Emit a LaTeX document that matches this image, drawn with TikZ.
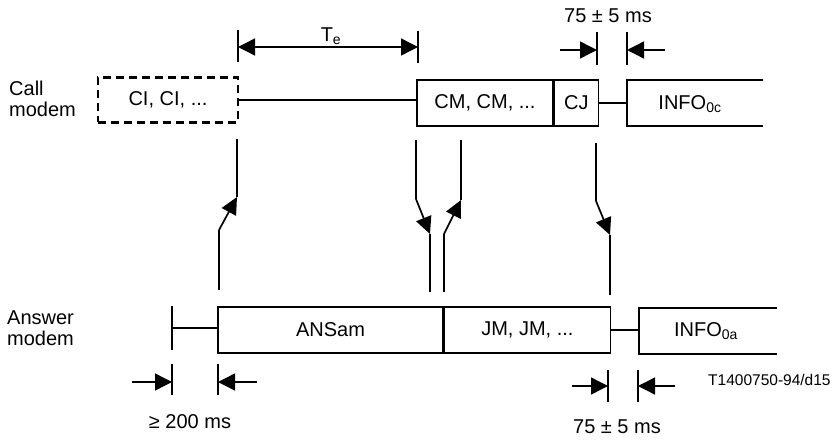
\documentclass[tikz,border=0pt]{standalone}
\usepackage{fontspec}
\setmainfont{Liberation Sans}
\usetikzlibrary{arrows.meta}
\begin{document}
\begin{tikzpicture}[x=1pt,y=-1pt,
  mainfont/.style={font=\fontsize{20}{21}\selectfont},
  txt/.style={mainfont, inner sep=0pt},
  box/.style={draw, line width=1.4pt, inner sep=0pt, minimum height=46pt, mainfont},
  ln/.style={line width=1.4pt},
  sigline/.style={line width=1.7pt},
  sig/.style={line width=1.7pt, -{Triangle[length=17pt,width=16pt]}},
  dim/.style={line width=1.4pt, -{Triangle[length=17pt,width=17pt]}},
  dimboth/.style={line width=1.4pt, {Triangle[length=17pt,width=17pt]}-{Triangle[length=17pt,width=17pt]}}
]
\useasboundingbox (0,0) rectangle (835,441);

% ---------- row labels ----------
\node[txt, align=left, anchor=west] (calllbl) at (9,99) {Call\\modem};
\node[txt, align=left, anchor=west] (anslbl) at (7,328) {Answer\\modem};

% ---------- call modem row ----------
\node[box, minimum width=140pt, minimum height=45pt, line width=2.6pt,
      dash pattern=on 8pt off 5pt] (ci) at (168,100) {CI, CI, ...};
\node[box, minimum width=136pt] (cm) at (485,103) {CM, CM, ...};
\node[box, minimum width=44pt, anchor=west] (cj) at (cm.east) {CJ};
\coordinate (icw) at (627,103);
\draw[ln] (763,80) -- (627,80) -- (627,126) -- (763,126);
\node[txt] (info0c) at (690,104) {INFO\textsubscript{0c}};
\draw[ln] (ci.east) -- (cm.west |- ci.east);
\draw[ln] (cj.east) -- (icw);

% ---------- answer modem row ----------
\node[box, minimum width=225pt] (ans) at (330.5,330) {ANSam};
\node[box, minimum width=166pt, anchor=west] (jm) at (ans.east) {JM, JM, ...};
\coordinate (iaw) at (639,330);
\draw[ln] (777,308) -- (639,308) -- (639,354) -- (777,354);
\node[txt] (info0a) at (706,331) {INFO\textsubscript{0a}};
\coordinate (t0a) at (172,306);
\coordinate (t0b) at (172,350);
\draw[ln] (t0a) -- (t0b);
\draw[ln] (172,328) -- (ans.west |- 172,328);
\draw[ln] (jm.east) -- (iaw);

% ---------- signal arrows ----------
% 1: answer -> call (ANSam start up to CI end)
\coordinate (s1a) at (219,290);
\coordinate (s1b) at (219,230);
\coordinate (s1c) at (237,197);
\coordinate (s1d) at (237,139);
\draw[sigline] (s1a) -- (s1b);
\draw[sig] (s1b) -- (s1c);
\draw[sigline] (s1c) -- (s1d);
% 2: call -> answer (CM start)
\coordinate (s2a) at (416,140);
\coordinate (s2b) at (416,199);
\coordinate (s2c) at (430,234);
\coordinate (s2d) at (430,292);
\draw[sigline] (s2a) -- (s2b);
\draw[sig] (s2b) -- (s2c);
\draw[sigline] (s2c) -- (s2d);
% 3: answer -> call (JM start)
\coordinate (s3a) at (444,292);
\coordinate (s3b) at (444,234);
\coordinate (s3c) at (461,200);
\coordinate (s3d) at (461,140);
\draw[sigline] (s3a) -- (s3b);
\draw[sig] (s3b) -- (s3c);
\draw[sigline] (s3c) -- (s3d);
% 4: call -> answer (CJ end)
\coordinate (s4a) at (596,143);
\coordinate (s4b) at (596,201);
\coordinate (s4c) at (610,235);
\coordinate (s4d) at (610,295);
\draw[sigline] (s4a) -- (s4b);
\draw[sig] (s4b) -- (s4c);
\draw[sigline] (s4c) -- (s4d);

% ---------- Te ----------
\coordinate (te1) at (238,30);  \coordinate (te1b) at (238,62);
\coordinate (te2) at (418,31);  \coordinate (te2b) at (418,63);
\draw[ln] (te1) -- (te1b);
\draw[ln] (te2) -- (te2b);
\draw[dimboth] (238,47) -- (418,47);
\node[txt] (te) at (331,36) {T\textsubscript{e}};

% ---------- 75 +- 5 ms top ----------
\draw[ln] (597,32) -- (597,65);
\draw[ln] (627,32) -- (627,65);
\coordinate (d1s) at (560,50); \coordinate (d1e) at (597,50);
\coordinate (d2s) at (665,50); \coordinate (d2e) at (627,50);
\draw[dim] (d1s) -- (d1e);
\draw[dim] (d2s) -- (d2e);
\node[txt] (t75top) at (608,16) {75 ± 5 ms};

% ---------- >= 200 ms ----------
\draw[ln] (172,364) -- (172,395);
\draw[ln] (218,364) -- (218,395);
\coordinate (d3s) at (132,382); \coordinate (d3e) at (172,382);
\coordinate (d4s) at (257,382); \coordinate (d4e) at (218,382);
\draw[dim] (d3s) -- (d3e);
\draw[dim] (d4s) -- (d4e);
\node[txt] (t200) at (190,422) {≥ 200 ms};

% ---------- 75 +- 5 ms bottom ----------
\draw[ln] (608,370) -- (608,402);
\draw[ln] (638,370) -- (638,402);
\coordinate (d5s) at (572,386); \coordinate (d5e) at (608,386);
\coordinate (d6s) at (675,386); \coordinate (d6e) at (638,386);
\draw[dim] (d5s) -- (d5e);
\draw[dim] (d6s) -- (d6e);
\node[txt] (t75bot) at (617,427) {75 ± 5 ms};

% ---------- figure id ----------
\node[inner sep=0pt, anchor=west, font=\fontsize{15.5}{16}\selectfont] (figid) at (708,380) {T1400750-94/d15};
\end{tikzpicture}
\end{document}
